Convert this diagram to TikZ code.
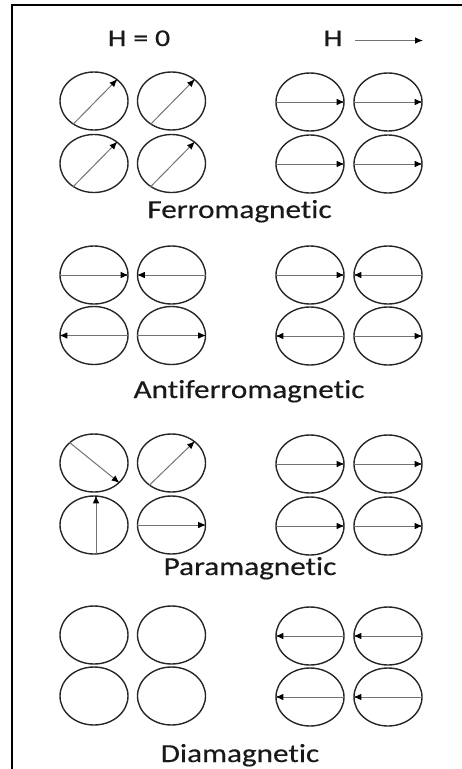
\documentclass[tikz,border=0pt]{standalone}
\usepackage{fontspec}
\setmainfont{Carlito}[Ligatures={NoCommon,NoRequired}]
\newfontfamily\lblfont{Carlito}[FakeStretch=1.2,FakeBold=0.4,Ligatures={NoCommon,NoRequired}]
\newfontfamily\hdrfont{Carlito}[FakeStretch=1.25,FakeBold=0.4,Ligatures={NoCommon,NoRequired}]
\usetikzlibrary{shapes.geometric,arrows.meta}
\begin{document}
\begin{tikzpicture}[x=1pt,y=-1pt,
  spin/.style={draw=black!85,line width=1.4pt,ellipse,minimum width=68pt,minimum height=58pt,inner sep=0pt},
  mom/.style={draw=black!55,line width=1pt,-{Latex[length=8pt,width=6.5pt,color=black]}},
  lbl/.style={font=\lblfont\fontsize{26}{28}\selectfont,text=black!90,anchor=base,inner sep=0pt},
  hdr/.style={font=\hdrfont\fontsize{24}{26}\selectfont,text=black!90,anchor=base,inner sep=0pt},
  frame/.style={line width=2pt,draw=black}]
\useasboundingbox (0,0) rectangle (461,769);
\coordinate (fb) at (12,770);
\coordinate (fc) at (12,5);
\coordinate (fr) at (462,5);
\draw[frame] (fb) -- (fc) -- (fr);

% header
\node[hdr] (h0) at (139,46) {H = 0};
\node[hdr] (h1) at (333,46) {H};
\coordinate (ha) at (355,40.5);
\coordinate (hb) at (423,40.5);
\draw[mom] (ha) -- (hb);

% Ferromagnetic
\node[spin] (fa1) at (94,101) {};
\node[spin] (fa2) at (171.5,101) {};
\node[spin] (fa3) at (94,163.5) {};
\node[spin] (fa4) at (171.5,163.5) {};
\foreach \n in {fa1,fa2,fa3,fa4} \draw[mom] (\n.228) -- (\n.43);
\node[spin] (fb1) at (310,102) {};
\node[spin] (fb2) at (388,102) {};
\node[spin] (fb3) at (310,164) {};
\node[spin] (fb4) at (388,164) {};
\foreach \n in {fb1,fb2,fb3,fb4} \draw[mom] (\n.west) -- (\n.east);
\node[lbl] (tf) at (239.5,218) {Ferromagnetic};

% Antiferromagnetic
\node[spin] (aa1) at (94,275) {};
\node[spin] (aa2) at (171.5,275) {};
\node[spin] (aa3) at (94,335.5) {};
\node[spin] (aa4) at (171.5,335.5) {};
\node[spin] (ab1) at (310,275) {};
\node[spin] (ab2) at (388,275) {};
\node[spin] (ab3) at (310,336) {};
\node[spin] (ab4) at (388,336) {};
\foreach \n in {aa1,aa4,ab1,ab4} \draw[mom] (\n.west) -- (\n.east);
\foreach \n in {aa2,aa3,ab2,ab3} \draw[mom] (\n.east) -- (\n.west);
\node[lbl] (ta) at (249,398) {Antiferromagnetic};

% Paramagnetic
\node[spin] (pa1) at (94,463) {};
\node[spin] (pa2) at (171.5,463) {};
\node[spin] (pa3) at (94,525) {};
\node[spin] (pa4) at (171.5,525) {};
\draw[mom] (pa1.140) -- (pa1.-38);
\draw[mom] (pa2.225) -- (pa2.43);
\draw[mom] ([xshift=2pt]pa3.south) -- ([xshift=2pt]pa3.north);
\draw[mom] (pa4.west) -- (pa4.east);
\node[spin] (pb1) at (310,464) {};
\node[spin] (pb2) at (388,464) {};
\node[spin] (pb3) at (310,526) {};
\node[spin] (pb4) at (388,526) {};
\foreach \n in {pb1,pb2,pb3,pb4} \draw[mom] (\n.west) -- (\n.east);
\node[lbl] (tp) at (250,575) {Paramagnetic};

% Diamagnetic
\node[spin] (da1) at (94,635) {};
\node[spin] (da2) at (171.5,635) {};
\node[spin] (da3) at (94,696) {};
\node[spin] (da4) at (171.5,696) {};
\node[spin] (db1) at (310,636) {};
\node[spin] (db2) at (388,636) {};
\node[spin] (db3) at (310,697) {};
\node[spin] (db4) at (388,697) {};
\foreach \n in {db1,db2,db3,db4} \draw[mom] (\n.east) -- (\n.west);
\node[lbl] (td) at (240,762) {Diamagnetic};
\end{tikzpicture}
\end{document}
